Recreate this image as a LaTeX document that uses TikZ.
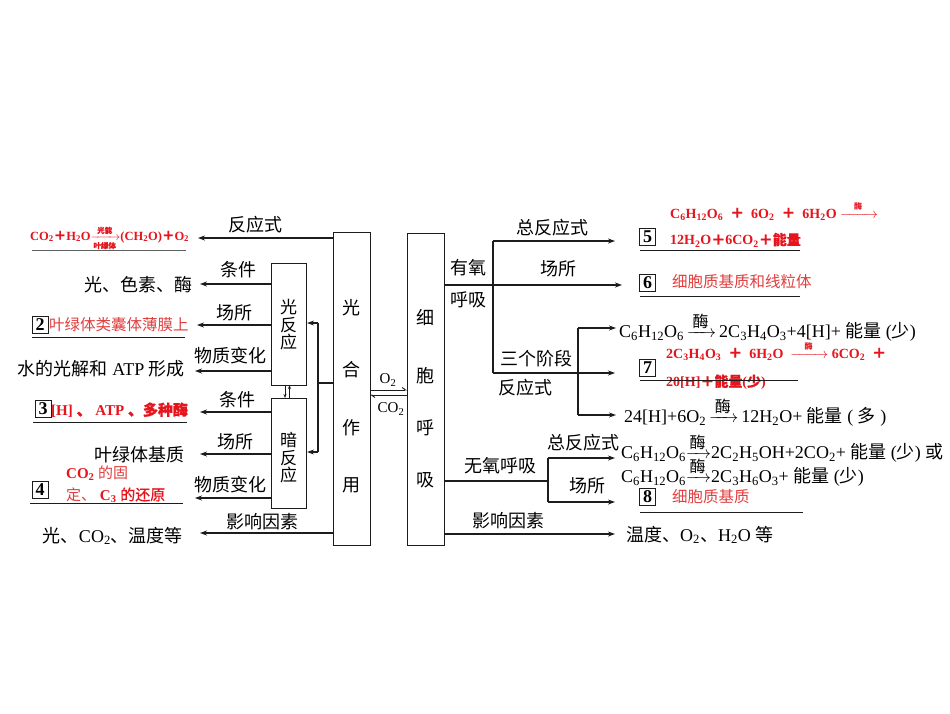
\documentclass[tikz,border=0pt]{standalone}
\usepackage{amsmath}
\usepackage{fontspec}
\setmainfont{Liberation Serif}
\newfontfamily\cjk{Noto Sans CJK SC}
\newfontfamily\cjkb[FakeBold=0.8]{Noto Sans CJK SC}
\usetikzlibrary{arrows.meta}
\definecolor{myred}{RGB}{230,20,28}
\definecolor{lred}{RGB}{226,62,62}
\definecolor{ink}{RGB}{28,28,28}
\newcommand\zh[1]{{\cjk #1}}
\newcommand\zhb[1]{{\cjkb #1}}
\newcommand\sbs[1]{\textsubscript{#1}}
\newcommand\enz[2]{$\xrightarrow{\hbox to #1{\hss\cjk\fontsize{#2}{#2}\selectfont 酶\hss}}$}
\tikzset{
  ln/.style={draw=ink, line width=1.1pt},
  ar/.style={ln, -{Stealth[length=7pt,width=5pt]}},
  hb/.style={draw=ink, line width=0.9pt, -{Straight Barb[left,length=3.5pt,width=5pt]}},
  uline/.style={draw=ink, line width=1pt},
  lab/.style={inner sep=0pt, font=\fontsize{18}{18}\selectfont},
  txt/.style={inner sep=0pt, font=\fontsize{18}{18}\selectfont},
  rtxt/.style={inner sep=0pt, text=lred, font=\fontsize{15.5}{15.5}\selectfont},
  rbtxt/.style={inner sep=0pt, text=myred, font=\fontsize{15}{15}\selectfont\bfseries},
  numbox/.style={draw=ink, line width=0.9pt, minimum width=16pt, minimum height=17pt, inner sep=0pt, font=\fontsize{18}{18}\selectfont\bfseries},
  bigbox/.style={ln, inner sep=0pt, anchor=north west},
  vch/.style={inner sep=0pt, font=\cjk\fontsize{18}{18}\selectfont},
}
\begin{document}
\begin{tikzpicture}[x=1pt,y=-1pt]
\useasboundingbox (0,0) rectangle (950,713);
\fill[white] (0,0) rectangle (950,713);

% ---------- main boxes ----------
\node[bigbox, minimum width=37pt, minimum height=313pt] (ps) at (333,232) {};
\node[bigbox, minimum width=37pt, minimum height=312pt] (cr) at (407,233) {};
\node[vch] (ps1) at (351.5,308) {光};
\node[vch] (ps2) at (351.5,370) {合};
\node[vch] (ps3) at (351.5,428) {作};
\node[vch] (ps4) at (351.5,485) {用};
\node[vch] (cr1) at (425.5,317) {细};
\node[vch] (cr2) at (425.5,376) {胞};
\node[vch] (cr3) at (425.5,428) {呼};
\node[vch] (cr4) at (425.5,480) {吸};

% O2 / CO2 exchange
\coordinate (o2a) at (370,390);
\coordinate (co2a) at (370,395);
\draw[hb] (o2a) -- (o2a -| cr.west);
\draw[hb] (co2a -| cr.west) -- (co2a);
\node[lab, font=\fontsize{15}{15}\selectfont] (o2l) at (388,380) {O\sbs{2}};
\node[lab, font=\fontsize{15}{15}\selectfont] (co2l) at (391,409) {CO\sbs{2}};

% ---------- light / dark reaction boxes ----------
\node[bigbox, minimum width=35pt, minimum height=122pt] (lr) at (271,263) {};
\node[bigbox, minimum width=35pt, minimum height=110pt] (dr) at (271,398) {};
\node[vch, align=center, font=\cjk\fontsize{17}{17.5}\selectfont] (lrt) at (288.5,325) {光\\反\\应};
\node[vch, align=center, font=\cjk\fontsize{17}{17.5}\selectfont] (drt) at (288.5,458) {暗\\反\\应};

% bracket from photosynthesis box
\coordinate (bj) at (318,383);
\coordinate (bt) at (318,323);
\coordinate (bb) at (318,452);
\draw[ln] (ps.west |- bj) -- (bj);
\draw[ln] (bt) -- (bb);
\draw[ar] (bt) -- (bt -| lr.east);
\draw[ar] (bb) -- (bb -| dr.east);
% between light and dark
\coordinate (ud1) at (285,385);
\coordinate (ud2) at (289.5,385);
\draw[ln, line width=0.8pt, -{Stealth[length=4pt,width=3pt]}] (ud1) -- (ud1 |- dr.north);
\draw[ln, line width=0.8pt, -{Stealth[length=4pt,width=3pt]}] (ud2 |- dr.north) -- (ud2);

% ---------- left branches ----------
% reaction equation
\coordinate (t1) at (198,238);
\draw[ar] (ps.west |- t1) -- (t1);
\node[lab] (l1) at (255,225) {\zh{反应式}};
\node[anchor=west, inner sep=0pt, text=myred, font=\fontsize{12.5}{12.5}\selectfont\bfseries] (eq0) at (30,238)
  {CO\sbs{2}\zhb{＋}H\sbs{2}O$\xrightarrow[\hbox{\cjkb\fontsize{7.5}{7.5}\selectfont 叶绿体}]{\hbox{\cjkb\fontsize{7.5}{7.5}\selectfont 光能}}$(CH\sbs{2}O)\zhb{＋}O\sbs{2}};
\draw[uline, line width=0.6pt, draw=ink!70] (32,250) -- (186,250);

% light reaction: condition
\coordinate (t2) at (200,284);
\draw[ar] (lr.west |- t2) -- (t2);
\node[lab] (l2) at (238,270) {\zh{条件}};
\node[txt, anchor=east] (r2) at (193,285) {\zh{光、色素、酶}};
% light reaction: site
\coordinate (t3) at (197,325);
\draw[ar] (lr.west |- t3) -- (t3);
\node[lab] (l3) at (234,313) {\zh{场所}};
\node[numbox] (n2) at (40,325) {2};
\node[rtxt, anchor=west] (r3) at (49,325) {\zh{叶绿体类囊体薄膜上}};
\draw[uline] (32,337) -- (185,337);
% light reaction: material change
\coordinate (t4) at (195,371);
\draw[ar] (lr.west |- t4) -- (t4);
\node[lab] (l4) at (230,356) {\zh{物质变化}};
\node[txt, anchor=east] (r4) at (185,369) {\zh{水的光解和} ATP \zh{形成}};

% dark reaction: condition
\coordinate (t5) at (200,412);
\draw[ar] (dr.west |- t5) -- (t5);
\node[lab] (l5) at (237,400) {\zh{条件}};
\node[numbox] (n3) at (43,409) {3};
\node[rbtxt, anchor=west] (r5) at (51,410) {[H] \zhb{、} ATP \zhb{、多种酶}};
\draw[uline] (33,422) -- (187,422);
% dark reaction: site
\coordinate (t6) at (200,454);
\draw[ar] (dr.west |- t6) -- (t6);
\node[lab] (l6) at (235,442) {\zh{场所}};
\node[txt, anchor=east] (r6) at (185,455) {\zh{叶绿体基质}};
% dark reaction: material change
\coordinate (t7) at (195,498);
\draw[ar] (dr.west |- t7) -- (t7);
\node[lab] (l7) at (230,485) {\zh{物质变化}};
\node[numbox] (n4) at (40,490) {4};
\node[inner sep=0pt, anchor=west, font=\fontsize{15}{15}\selectfont] (r7a) at (66,473) {\textcolor{myred}{\bfseries CO\sbs{2}} \textcolor{lred}{\zh{的固}}};
\node[inner sep=0pt, anchor=west, font=\fontsize{15}{15}\selectfont] (r7b) at (66,495) {\textcolor{lred}{\zh{定、}} \textcolor{myred}{\bfseries C\sbs{3}} \textcolor{myred}{\zhb{的还原}}};
\draw[uline] (30,503) -- (183,503);
% influencing factors
\coordinate (t8) at (200,533);
\draw[ar] (ps.west |- t8) -- (t8);
\node[lab] (l8) at (262,522) {\zh{影响因素}};
\node[txt, anchor=east] (r8) at (183,536) {\zh{光、}CO\sbs{2}\zh{、温度等}};

% ---------- right: aerobic ----------
\coordinate (a0) at (622,285);
\draw[ar] (cr.east |- a0) -- (a0);
\node[lab] (ya) at (468,268) {\zh{有氧}};
\node[lab] (yb) at (468,300) {\zh{呼吸}};
\node[lab] (l9) at (558,269) {\zh{场所}};
\coordinate (v1t) at (493,241);
\coordinate (v1b) at (493,373);
\draw[ln] (v1t) -- (v1b);
\coordinate (t10) at (615,241);
\draw[ar] (v1t) -- (t10);
\node[lab] (l10) at (552,228) {\zh{总反应式}};
\coordinate (t11) at (615,373);
\draw[ar] (v1b) -- (t11);
\node[lab] (l11a) at (536,359) {\zh{三个阶段}};
\node[lab] (l11b) at (525,388) {\zh{反应式}};
\coordinate (v2t) at (578,328);
\coordinate (v2b) at (578,415);
\draw[ln] (v2t) -- (v2b);
\coordinate (t12) at (616,328);
\coordinate (t13) at (616,415);
\draw[ar] (v2t) -- (t12);
\draw[ar] (v2b) -- (t13);

% total equation (5)
\node[rbtxt, anchor=west, font=\fontsize{14}{14}\selectfont\bfseries] (e5a) at (670,211)
  {C\sbs{6}H\sbs{12}O\sbs{6}\ \ \zhb{＋}\ \ 6O\sbs{2}\ \ \zhb{＋}\ \ 6H\sbs{2}O \enz{30pt}{8}};
\node[numbox] (n5) at (647.5,237) {5};
\node[rbtxt, anchor=west, font=\fontsize{14}{14}\selectfont\bfseries] (e5b) at (670,240)
  {12H\sbs{2}O\zhb{＋}6CO\sbs{2}\zhb{＋能量}};
\draw[uline] (640,250) -- (800,250);
% site (6)
\node[numbox] (n6) at (647.5,283) {6};
\node[rtxt, anchor=west] (e6) at (672,282) {\zh{细胞质基质和线粒体}};
\draw[uline] (640,296) -- (800,296);
% three stages
\node[txt, anchor=west] (e7a) at (619,327)
  {C\sbs{6}H\sbs{12}O\sbs{6}\,\enz{20pt}{16}\,2C\sbs{3}H\sbs{4}O\sbs{3}+4[H]+ \zh{能量} (\zh{少})};
\node[rbtxt, anchor=west, font=\fontsize{14}{14}\selectfont\bfseries] (e7b) at (666,351)
  {2C\sbs{3}H\sbs{4}O\sbs{3}\ \ \zhb{＋}\ \ 6H\sbs{2}O\ \ \enz{30pt}{8}\ 6CO\sbs{2}\ \ \zhb{＋}};
\node[numbox] (n7) at (647.5,368) {7};
\node[rbtxt, anchor=west, font=\fontsize{14}{14}\selectfont\bfseries] (e7c) at (666,382)
  {20[H]\zhb{＋能量}(\zhb{少})};
\draw[uline] (640,380) -- (798,380);
\node[txt, anchor=west] (e7d) at (624,412)
  {24[H]+6O\sbs{2}\,\enz{20pt}{16}\,12H\sbs{2}O+ \zh{能量} ( \zh{多} )};

% ---------- right: anaerobic ----------
\coordinate (an) at (548,481);
\draw[ln] (cr.east |- an) -- (an);
\node[lab] (l14) at (500,466) {\zh{无氧呼吸}};
\coordinate (v3t) at (548,458);
\coordinate (v3b) at (548,502);
\draw[ln] (v3t) -- (v3b);
\coordinate (t15) at (615,458);
\coordinate (t16) at (615,502);
\draw[ar] (v3t) -- (t15);
\draw[ar] (v3b) -- (t16);
\node[lab] (l15) at (583,443) {\zh{总反应式}};
\node[lab] (l16) at (587,486) {\zh{场所}};
\node[txt, anchor=west] (e8a) at (621,448)
  {C\sbs{6}H\sbs{12}O\sbs{6}\enz{16pt}{16}2C\sbs{2}H\sbs{5}OH+2CO\sbs{2}+ \zh{能量} (\zh{少}) \zh{或}};
\node[txt, anchor=west] (e8b) at (621,472)
  {C\sbs{6}H\sbs{12}O\sbs{6}\enz{16pt}{16}2C\sbs{3}H\sbs{6}O\sbs{3}+ \zh{能量} (\zh{少})};
\node[numbox] (n8) at (647.5,497) {8};
\node[rtxt, anchor=west] (e8c) at (672,497) {\zh{细胞质基质}};
\draw[uline] (640,512) -- (803,512);
% influencing factors
\coordinate (t17) at (615,534);
\draw[ar] (cr.east |- t17) -- (t17);
\node[lab] (l17) at (508,521) {\zh{影响因素}};
\node[txt, anchor=west] (e9) at (626,535) {\zh{温度、}O\sbs{2}\zh{、}H\sbs{2}O \zh{等}};
\end{tikzpicture}
\end{document}
